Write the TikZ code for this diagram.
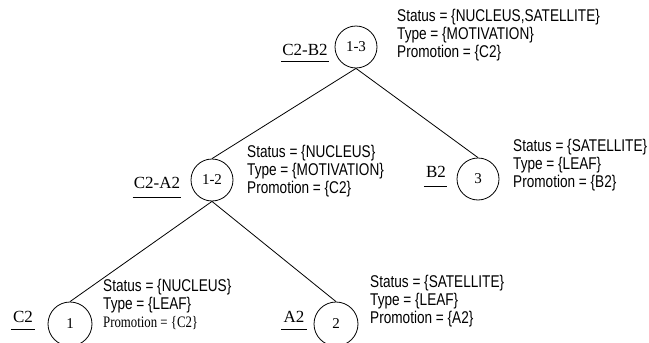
\documentclass[tikz,border=0pt]{standalone}
\usepackage{fontspec}
\setmainfont{Liberation Serif}
\newfontfamily\infosans[FakeStretch=0.8]{Liberation Sans}
\newfontfamily\infoserif[FakeStretch=0.8]{Liberation Serif}
\begin{document}
\begin{tikzpicture}[x=1pt,y=-1pt,
  treenode/.style={draw,circle,line width=0.8pt,minimum size=42pt,inner sep=0pt,font=\fontsize{15}{18}\selectfont},
  leafnode/.style={treenode,minimum size=44pt},
  nuclabel/.style={inner sep=0pt,anchor=base,font=\fontsize{17}{18}\selectfont},
  info/.style={inner sep=0pt,anchor=north west,align=left,font=\infosans\fontsize{17}{18}\selectfont},
  edge/.style={line width=0.8pt},
  uline/.style={line width=0.8pt}]
\useasboundingbox (0,0) rectangle (649,343);

% nodes
\node[treenode] (n13) at (356,47) {1-3};
\node[treenode] (n12) at (212,180) {1-2};
\node[treenode] (n3)  at (478,179) {3};
\node[leafnode] (n1)  at (70,324) {1};
\node[leafnode] (n2)  at (336,324) {2};

% edges
\draw[edge] (n13.south) -- (n12.north);
\draw[edge] (n13.south) -- (n3.north);
\draw[edge] (n12.south) -- (n1.north);
\draw[edge] (n12.south) -- (n2.north);

% nucleus labels
\node[nuclabel] (l13) at (305,55) {C2-B2};
\node[nuclabel] (l12) at (157,188) {C2-A2};
\node[nuclabel] (l3)  at (436,177) {B2};
\node[nuclabel] (l1)  at (23,322) {C2};
\node[nuclabel] (l2)  at (294,322) {A2};
\draw[uline] ([xshift=-1pt,yshift=-6pt]l13.base west) -- ([xshift=1pt,yshift=-6pt]l13.base east);
\draw[uline] ([xshift=-1pt,yshift=-9pt]l12.base west) -- ([xshift=1pt,yshift=-9pt]l12.base east);
\draw[uline] ([xshift=-2pt,yshift=-9pt]l3.base west) -- ([xshift=1pt,yshift=-9pt]l3.base east);
\draw[uline] ([xshift=-2pt,yshift=-7pt]l1.base west) -- ([xshift=2pt,yshift=-7pt]l1.base east);
\draw[uline] ([xshift=-2pt,yshift=-7pt]l2.base west) -- ([xshift=2pt,yshift=-7pt]l2.base east);

% info blocks
\node[info] (i13) at (397,9) {Status = \{NUCLEUS,SATELLITE\}\\Type = \{MOTIVATION\}\\Promotion = \{C2\}};
\node[info] (i12) at (247,145) {Status = \{NUCLEUS\}\\Type = \{MOTIVATION\}\\Promotion = \{C2\}};
\node[info] (i3)  at (513,139) {Status = \{SATELLITE\}\\Type = \{LEAF\}\\Promotion = \{B2\}};
\node[info] (i1)  at (103,279) {Status = \{NUCLEUS\}\\Type = \{LEAF\}\\{\infoserif\fontsize{16}{18}\selectfont Promotion = \{C2\}}};
\node[info] (i2)  at (370,275) {Status = \{SATELLITE\}\\Type = \{LEAF\}\\Promotion = \{A2\}};
\end{tikzpicture}
\end{document}
